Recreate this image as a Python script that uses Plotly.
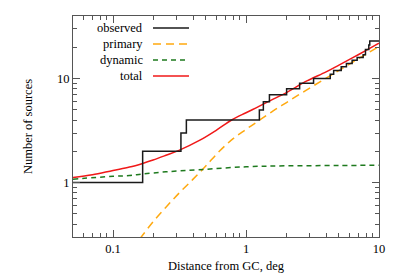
import plotly.graph_objects as go

# ---- data ----
obs_x = [0.05, 0.167, 0.324, 0.356, 1.26, 1.35, 1.50, 2.02, 2.53, 3.22, 4.3, 4.56,
         5.2, 5.69, 6.28, 6.85, 7.6, 7.91, 8.38, 8.52, 10]
obs_y = [1, 2, 3, 4, 5, 6, 7, 8, 9, 10, 11, 12, 13, 14, 15, 16, 17, 19, 21, 23, 23]

prim_x = [0.05, 0.08, 0.1, 0.13, 0.15, 0.163, 0.2, 0.25, 0.316, 0.4, 0.5, 0.63, 0.8,
          1.0, 1.25, 1.6, 2.0, 2.5, 3.2, 4.0, 5.0, 6.3, 8.0, 10]
prim_y = [0.05, 0.10, 0.14, 0.22, 0.26, 0.30, 0.42, 0.58, 0.80, 1.08, 1.45, 2.0, 2.65,
          3.25, 3.95, 4.9, 5.85, 7.0, 8.5, 10.1, 12.0, 14.3, 17.2, 20.4]

dyn_x = [0.05, 0.1, 0.133, 0.167, 0.25, 0.44, 1.0, 2.0, 5.0, 10]
dyn_y = [1.08, 1.15, 1.17, 1.21, 1.27, 1.33, 1.42, 1.45, 1.46, 1.47]

tot_x = [0.05, 0.07, 0.1, 0.133, 0.167, 0.2, 0.25, 0.31, 0.45, 0.6, 0.78, 1.0, 1.25,
         1.6, 2.0, 2.87, 4.0, 5.0, 6.3, 8.0, 10]
tot_y = [1.12, 1.19, 1.31, 1.41, 1.53, 1.65, 1.83, 2.03, 2.56, 3.2, 4.0, 4.7, 5.4,
         6.35, 7.3, 9.5, 11.6, 13.5, 15.8, 18.7, 21.9]

x_tickvals = [0.1, 1, 10]
x_ticktext = ["0.1", "1", "10"]
y_tickvals = [1, 10]
y_ticktext = ["1", "10"]

legend_names = ["observed", "primary", "dynamic", "total"]

C_OBS = "#1a1a1a"
C_PRIM = "#FFA90F"
C_DYN = "#1E7A1E"
C_TOT = "#F01818"

FONT = "Liberation Serif"

fig = go.Figure()
fig.add_trace(go.Scatter(x=prim_x, y=prim_y, mode="lines", line_shape="spline",
                         line=dict(color=C_PRIM, width=1.5, dash="8px,5px"), name="primary"))
fig.add_trace(go.Scatter(x=dyn_x, y=dyn_y, mode="lines", line_shape="spline",
                         line=dict(color=C_DYN, width=1.5, dash="5px,4px"), name="dynamic"))
fig.add_trace(go.Scatter(x=tot_x, y=tot_y, mode="lines", line_shape="spline",
                         line=dict(color=C_TOT, width=1.5), name="total"))
fig.add_trace(go.Scatter(x=obs_x, y=obs_y, mode="lines", line_shape="hv",
                         line=dict(color=C_OBS, width=1.5), name="observed"))

# page body has an 8px margin; the figure is sized to fill the rest of the window
OFF = 8
W, H = 399 - OFF, 279 - OFF
L, T = 73 - OFF, 16 - OFF
R = 399 - 379
B = H - (237 - OFF)
pw, ph = W - L - R, H - T - B

# manual gnuplot-style legend (text right-aligned, sample to the right)
leg_styles = [dict(color=C_OBS, dash="solid"), dict(color=C_PRIM, dash="8px,5px"),
              dict(color=C_DYN, dash="5px,4px"), dict(color=C_TOT, dash="solid")]
rows_px = [28, 44, 60, 76]
for name, st, ypx in zip(legend_names, leg_styles, rows_px):
    yp = 1 - (ypx - 16) / ph
    fig.add_annotation(xref="paper", yref="paper", x=(145 - 73) / pw, y=yp, text=name,
                       showarrow=False, xanchor="right", yanchor="middle",
                       font=dict(family=FONT, size=12.5, color="black"))
    fig.add_shape(type="line", xref="paper", yref="paper",
                  x0=(153 - 73) / pw, x1=(189 - 73) / pw, y0=yp, y1=yp,
                  line=dict(color=st["color"], width=1.5, dash=st["dash"]))

axis_common = dict(type="log", ticks="inside", ticklen=7, tickwidth=1, tickcolor="#555",
                   showline=True, linecolor="#555", linewidth=1.2, mirror="allticks",
                   showgrid=False, zeroline=False, automargin=False,
                   tickfont=dict(family=FONT, size=12.5, color="black"),
                   minor=dict(ticks="inside", ticklen=4, tickcolor="#555", tickwidth=1,
                              dtick="D1", showgrid=False))

fig.update_xaxes(**axis_common, range=[-1.30103, 1], tickvals=x_tickvals, ticktext=x_ticktext,
                 title=dict(text="Distance from GC, deg", font=dict(family=FONT, size=12.5, color="black"),
                            standoff=6))
fig.update_yaxes(**axis_common, range=[-0.52288, 1.60206], tickvals=y_tickvals, ticktext=y_ticktext,
                 title=dict(text="Number of sources", font=dict(family=FONT, size=12.5, color="black"),
                            standoff=21))

fig.update_layout(width=W, height=H, margin=dict(l=L, r=R, t=T, b=B, autoexpand=False),
                  paper_bgcolor="white", plot_bgcolor="white", showlegend=False,
                  font=dict(family=FONT, size=12.5, color="black"))

fig.write_html("out.html")
